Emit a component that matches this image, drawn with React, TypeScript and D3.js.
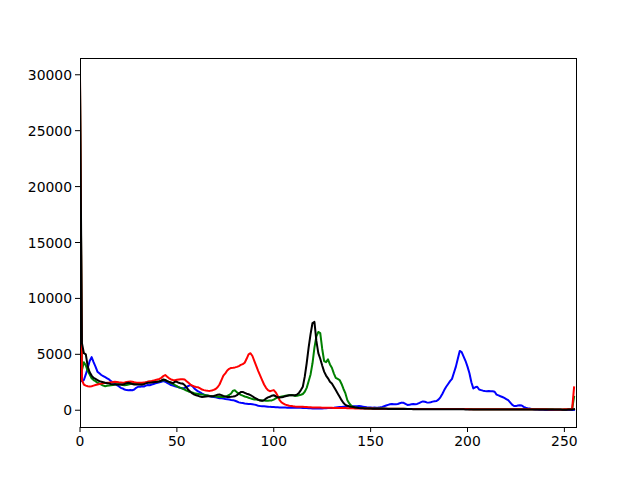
import React from "react";
import * as d3 from "d3";

const blueValues = [
  15000,2600,2700,3200,3800,4400,4750,4300,3900,3450,3300,3150,3050,2950,2850,2750,
  2600,2500,2400,2250,2150,2000,1950,1850,1800,1780,1800,1790,1850,2000,2100,2100,
  2150,2120,2200,2250,2230,2300,2350,2400,2450,2500,2550,2600,2550,2450,2350,2250,
  2200,2150,2100,2050,1980,1940,1980,2080,2180,2250,2150,1950,1800,1680,1600,1480,
  1400,1340,1300,1250,1200,1180,1150,1120,1080,1060,1040,1000,980,950,920,900,
  850,780,700,660,640,600,580,560,550,540,500,460,400,370,360,350,
  340,320,300,290,280,270,260,250,250,240,240,230,240,230,230,220,
  230,240,220,210,200,190,180,170,160,160,150,150,150,160,170,180,
  190,200,210,220,240,260,280,300,320,330,340,350,360,360,350,360,
  370,350,320,290,260,240,240,230,240,230,240,260,300,360,420,480,
  530,560,540,530,560,620,680,660,560,470,480,530,550,540,560,640,
  720,790,760,700,680,720,770,800,820,950,1150,1450,1800,2100,2350,2600,
  2800,3350,3900,4600,5300,5200,4800,4400,3900,3300,2500,1950,2050,2100,1850,1800,
  1750,1720,1700,1710,1700,1700,1650,1400,1330,1250,1180,1100,1000,900,700,500,
  380,370,420,450,420,300,220,180,150,120,90,70,60,50,40,40,
  30,30,25,25,20,20,20,20,20,15,15,15,15,15,20,30,
];

const greenValues = [
  29000,3600,4300,4000,3500,3200,2850,2700,2600,2450,2400,2300,2200,2150,2180,2200,
  2240,2260,2300,2330,2330,2300,2260,2240,2260,2300,2350,2380,2400,2380,2340,2320,
  2330,2400,2480,2540,2520,2540,2560,2540,2560,2600,2650,2680,2700,2600,2520,2420,
  2350,2250,2150,2050,2000,1940,1850,1750,1680,1620,1580,1530,1490,1460,1430,1400,
  1380,1350,1320,1280,1250,1240,1220,1200,1190,1190,1190,1220,1280,1360,1500,1750,
  1780,1600,1480,1380,1300,1230,1190,1120,1060,1000,960,950,920,900,880,860,
  840,840,860,880,950,1050,1150,1190,1220,1260,1290,1320,1340,1360,1330,1280,
  1300,1340,1380,1450,1650,2000,2600,3200,4200,5600,6600,7000,6900,5500,4400,4300,
  4550,4100,3800,3300,2900,2800,2700,2350,1900,1500,900,600,400,300,260,230,
  210,200,190,180,170,165,160,160,155,150,150,150,145,145,140,140,
  140,135,135,130,130,130,125,125,125,120,120,120,120,118,118,115,
  115,115,115,112,112,110,110,110,110,108,108,108,105,105,105,105,
  105,105,105,102,102,100,100,100,100,100,100,98,98,98,98,98,
  95,95,95,95,95,95,92,92,92,92,90,90,90,90,90,88,
  88,88,88,85,85,85,85,85,82,82,82,80,80,80,80,80,
  80,78,78,78,78,75,75,75,75,75,75,75,80,85,90,1200,
];

const redValues = [
  30000,2700,2300,2200,2150,2120,2150,2200,2250,2300,2350,2380,2420,2440,2450,2450,
  2500,2520,2550,2530,2500,2480,2450,2480,2520,2540,2560,2540,2500,2470,2450,2460,
  2450,2480,2500,2550,2600,2620,2650,2700,2750,2800,2900,3050,3150,3000,2850,2750,
  2700,2690,2720,2750,2780,2780,2750,2600,2450,2300,2200,2120,2080,2050,1950,1850,
  1800,1760,1740,1730,1760,1820,1900,2050,2300,2700,3100,3300,3550,3700,3780,3800,
  3830,3880,3950,4050,4120,4250,4600,5000,5100,4850,4400,3950,3500,3100,2700,2300,
  2000,1800,1700,1750,1800,1600,1300,900,700,600,500,450,400,380,350,330,
  320,310,300,300,290,280,270,260,250,245,240,240,235,230,230,225,
  220,220,215,210,210,205,200,200,195,190,185,180,175,170,165,160,
  160,155,155,150,150,148,145,145,142,140,140,138,135,135,132,130,
  130,128,128,125,125,125,122,122,120,120,120,118,118,118,115,115,
  115,115,112,112,112,110,110,110,110,108,108,108,105,105,105,105,
  105,102,102,102,100,100,100,100,100,98,98,98,98,95,95,95,
  95,95,92,92,92,92,90,90,90,90,90,88,88,88,88,85,
  85,85,85,85,82,82,82,82,80,80,80,80,80,78,78,78,
  78,78,75,75,75,75,75,75,75,75,78,80,85,95,120,2050,
];

const grayValues = [
  29500,6000,5100,5000,3900,3400,3100,2900,2800,2700,2600,2550,2500,2450,2420,2390,
  2350,2320,2300,2300,2290,2300,2300,2350,2420,2450,2420,2350,2300,2290,2300,2310,
  2300,2330,2400,2450,2460,2480,2500,2520,2540,2580,2650,2750,2700,2600,2540,2480,
  2420,2550,2540,2450,2400,2380,2250,2050,1800,1650,1500,1400,1340,1280,1220,1190,
  1200,1220,1240,1250,1250,1280,1330,1380,1400,1350,1280,1220,1190,1190,1200,1220,
  1250,1350,1500,1620,1640,1560,1480,1430,1350,1250,1130,1045,950,860,840,900,
  1045,1150,1200,1300,1340,1250,1150,1140,1160,1190,1250,1300,1340,1350,1340,1340,
  1400,1550,1800,2100,3000,4200,5600,6800,7800,7900,6200,5100,4600,4000,3450,3100,
  2850,2550,2400,2100,1800,1500,1200,900,650,480,400,340,300,280,250,230,
  200,180,170,160,155,150,145,140,138,135,132,130,128,125,122,120,
  118,116,114,112,110,108,106,105,104,102,100,100,98,98,96,95,
  94,93,92,91,90,90,89,88,87,86,85,85,84,83,82,82,
  81,80,80,79,78,78,77,76,76,75,75,74,74,73,72,72,
  71,71,70,70,69,69,68,68,67,67,66,66,65,65,64,64,
  63,63,62,62,61,61,60,60,60,59,59,58,58,58,57,57,
  56,56,56,55,55,55,54,54,54,53,53,53,55,60,70,100,
];

const seriesList = [
  { name: "b", color: "#0000ff", values: blueValues },
  { name: "g", color: "#008000", values: greenValues },
  { name: "r", color: "#ff0000", values: redValues },
  { name: "gray", color: "#000000", values: grayValues },
];

const xTicks = [0, 50, 100, 150, 200, 250];
const yTicks = [0, 5000, 10000, 15000, 20000, 25000, 30000];

const W = 640;
const H = 480;
const left = 80;
const right = 576;
const top = 58;
const bottom = 427;

export default function App() {
  const x = d3.scaleLinear().domain([0, 256]).range([left, right]);
  const y = d3.scaleLinear().domain([-1500, 31500]).range([bottom, top]);
  const line = d3
    .line<number>()
    .x((_, i) => x(i))
    .y((d) => y(d));
  const font = "DejaVu Sans, sans-serif";
  return (
    <svg
      width={W}
      height={H}
      viewBox={`0 0 ${W} ${H}`}
      style={{ position: "absolute", left: 0, top: 0, background: "#fff" }}
    >
      <defs>
        <clipPath id="plotclip">
          <rect x={left} y={top} width={right - left} height={bottom - top} />
        </clipPath>
      </defs>
      <rect x={0} y={0} width={W} height={H} fill="#fff" />
      <g clipPath="url(#plotclip)">
        {seriesList.map((s) => (
          <path
            key={s.name}
            d={line(s.values) || ""}
            fill="none"
            stroke={s.color}
            strokeWidth={2}
            strokeLinejoin="round"
            strokeLinecap="square"
          />
        ))}
      </g>
      <rect
        x={left}
        y={top}
        width={right - left}
        height={bottom - top}
        fill="none"
        stroke="#000"
        strokeWidth={1}
        shapeRendering="crispEdges"
      />
      {xTicks.map((t) => (
        <g key={"x" + t}>
          <line x1={x(t)} x2={x(t)} y1={bottom} y2={bottom + 5} stroke="#000" strokeWidth={1} />
          <text x={x(t)} y={bottom + 19} textAnchor="middle" fontFamily={font} fontSize={13.9} fill="#000">
            {t}
          </text>
        </g>
      ))}
      {yTicks.map((t) => (
        <g key={"y" + t}>
          <line x1={left - 5} x2={left} y1={y(t)} y2={y(t)} stroke="#000" strokeWidth={1} />
          <text x={left - 8} y={y(t) + 5} textAnchor="end" fontFamily={font} fontSize={13.9} fill="#000">
            {t}
          </text>
        </g>
      ))}
    </svg>
  );
}
